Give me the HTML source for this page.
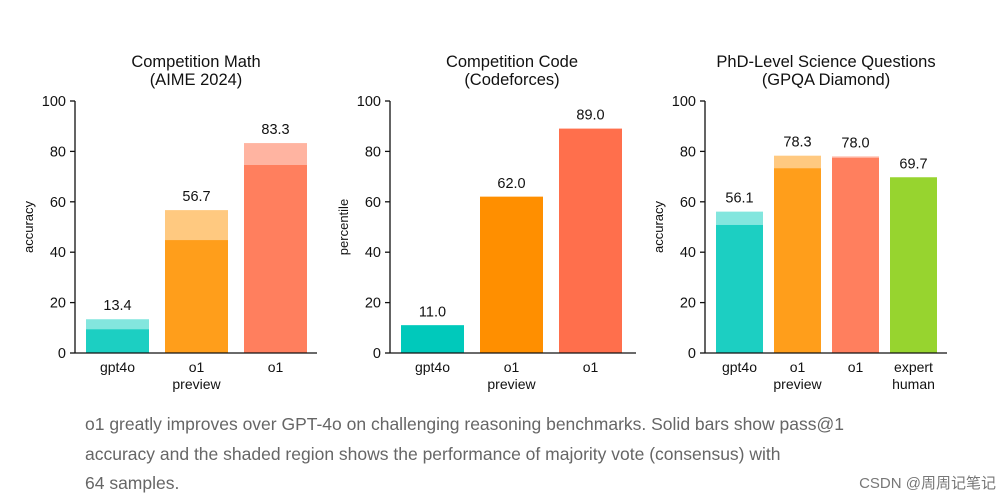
<!DOCTYPE html>
<html><head><meta charset="utf-8"><style>
body{margin:0;background:#fff;width:1008px;height:500px;overflow:hidden;font-family:"Liberation Sans","Noto Sans CJK SC",sans-serif}
svg text{font-family:"Liberation Sans","Noto Sans CJK SC",sans-serif}
.cap{position:absolute;left:85px;width:840px;font-size:17.5px;color:#666;line-height:29.5px}
</style></head><body>
<svg id="chart" width="1008" height="400" style="position:absolute;left:0;top:0"></svg>
<div class="cap" style="top:410px">o1 greatly improves over GPT-4o on challenging reasoning benchmarks. Solid bars show pass@1<br>accuracy and the shaded region shows the performance of majority vote (consensus) with<br>64 samples.</div>
<div style="position:absolute;right:12px;top:472px;font-size:15px;color:#777">CSDN @周周记笔记</div>
<script>
const titles1=["Competition Math","Competition Code","PhD-Level Science Questions"];
const titles2=["(AIME 2024)","(Codeforces)","(GPQA Diamond)"];
const yLabels=["accuracy","percentile","accuracy"];
const cats1=[["gpt4o","o1","o1"],["gpt4o","o1","o1"],["gpt4o","o1","o1","expert"]];
const cats2=[["","preview",""],["","preview",""],["","preview","","human"]];
const totals=[[13.4,56.7,83.3],[11.0,62.0,89.0],[56.1,78.3,78.0,69.7]];
const solids=[[9.4,44.8,74.6],[11.0,62.0,89.0],[50.8,73.3,77.4,69.7]];
const yTicks=[0,20,40,60,80,100];
const colors=[["#1ccfc2","#ff9e1b","#ff7f5e"],["#00c9bb","#ff8f00","#ff6f4c"],["#1ccfc2","#ff9e1b","#ff7f5e","#97d42f"]];
const lights=[["#83e6de","#ffc980","#ffb4a1"],["#00c9bb","#ff8f00","#ff6f4c"],["#83e6de","#ffc980","#ffb4a1","#97d42f"]];
const svg=document.getElementById('chart');
const NS="http://www.w3.org/2000/svg";
function mk(t,a,txt){const e=document.createElementNS(NS,t);for(const k in a)e.setAttribute(k,a[k]);if(txt!==undefined)e.textContent=txt;svg.appendChild(e);return e;}
const axX=[75,390,705],axEnd=[317,636,947],bw=[63,63,47],step=[79,79,58],gap=11,y0=353,y100=101;
function ys(v){return y0-(v/100)*(y0-y100);}
for(let p=0;p<3;p++){
  const cx=[196,512,826][p];
  let t=mk('text',{x:cx,y:67,'text-anchor':'middle','font-size':16.5,fill:'#111'},titles1[p]);
  
  t=mk('text',{x:cx,y:85,'text-anchor':'middle','font-size':16.5,fill:'#111'},titles2[p]);
  
  t=mk('text',{x:0,y:0,'text-anchor':'middle','font-size':13,fill:'#111',transform:`translate(${axX[p]-42},${(y0+y100)/2}) rotate(-90)`},yLabels[p]);
  
  for(const v of yTicks){
    let l=mk('line',{x1:axX[p]-5,x2:axX[p],y1:ys(v),y2:ys(v),stroke:'#111','stroke-width':1.3});
    
    let tl=mk('text',{x:axX[p]-9,y:ys(v)+5,'text-anchor':'end','font-size':14.5,fill:'#111'},String(v));
    
  }
  for(let i=0;i<totals[p].length;i++){
    const x=axX[p]+gap+i*step[p];
    let r=mk('rect',{x:x,y:ys(totals[p][i]),width:bw[p],height:y0-ys(totals[p][i]),fill:lights[p][i]});
    
    r=mk('rect',{x:x,y:ys(solids[p][i]),width:bw[p],height:y0-ys(solids[p][i]),fill:colors[p][i]});
    
    let v=mk('text',{x:x+bw[p]/2,y:ys(totals[p][i])-9,'text-anchor':'middle','font-size':14.5,fill:'#111'},totals[p][i].toFixed(1));
    
    let c=mk('text',{x:x+bw[p]/2,y:y0+19,'text-anchor':'middle','font-size':14,fill:'#111'},cats1[p][i]);
    
    if(cats2[p][i]){c=mk('text',{x:x+bw[p]/2,y:y0+36,'text-anchor':'middle','font-size':14,fill:'#111'},cats2[p][i]);
    }
  }
  let a=mk('line',{x1:axX[p],x2:axX[p],y1:y100,y2:y0,stroke:'#111','stroke-width':1.3});
  
  a=mk('line',{x1:axX[p],x2:axEnd[p],y1:y0,y2:y0,stroke:'#111','stroke-width':1.3});
  
}
</script>
</body></html>
